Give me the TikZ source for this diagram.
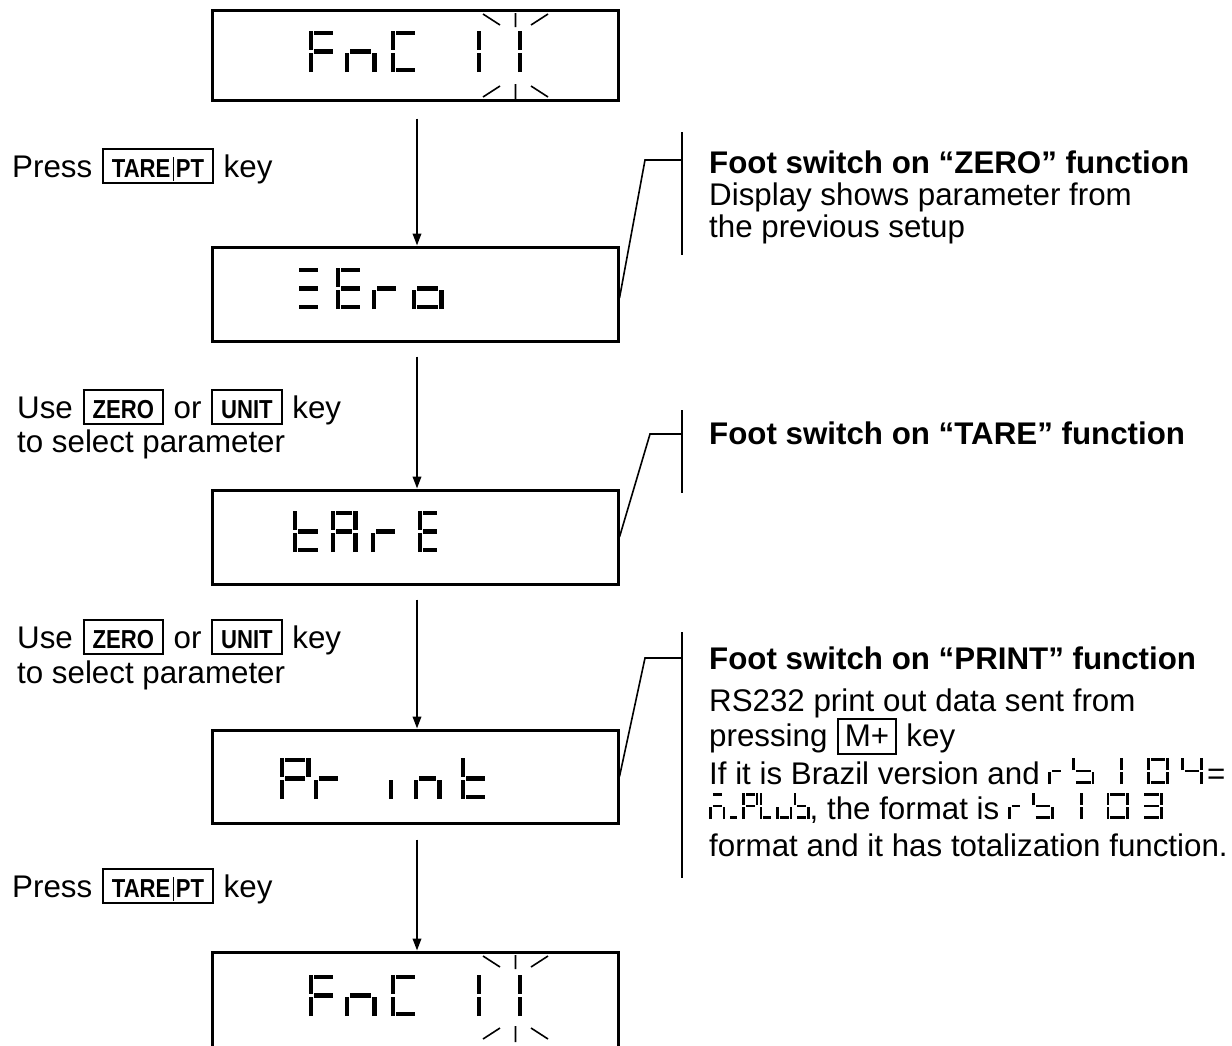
\documentclass[tikz,border=0pt]{standalone}
\usepackage{fontspec}
\usepackage{graphicx}
\setmainfont{Liberation Sans}
\usetikzlibrary{arrows.meta}
\newdimen\sgW \newdimen\sgH \newdimen\sgT \newdimen\sgG
\newcommand\sgr[4]{\rlap{\kern\dimexpr#1\relax\raise\dimexpr#2\relax\hbox{\vrule width\dimexpr#3\relax height\dimexpr#4\relax depth0pt}}}
\newcommand\sgSa{\sgr{\sgT+\sgG}{\sgH-\sgT}{\sgW-2\sgT-2\sgG}{\sgT}}
\newcommand\sgSg{\sgr{\sgT+\sgG}{(\sgH-\sgT)/2}{\sgW-2\sgT-2\sgG}{\sgT}}
\newcommand\sgSd{\sgr{\sgT+\sgG}{0pt}{\sgW-2\sgT-2\sgG}{\sgT}}
\newcommand\sgSf{\sgr{0pt}{\sgH/2+\sgG}{\sgT}{\sgH/2-\sgG}}
\newcommand\sgSe{\sgr{0pt}{0pt}{\sgT}{\sgH/2-\sgG}}
\newcommand\sgSb{\sgr{\sgW-\sgT}{\sgH/2+\sgG}{\sgT}{\sgH/2-\sgG}}
\newcommand\sgSc{\sgr{\sgW-\sgT}{0pt}{\sgT}{\sgH/2-\sgG}}
\def\sgparse#1{\ifx#1\relax\else\csname sgS#1\endcsname\expandafter\sgparse\fi}
\newcommand\sgc[2]{\begingroup\sgW=#1\relax\hbox to\sgW{\sgparse#2\relax\hfil}\endgroup}
\newcommand\sgput[2]{\rlap{\kern#1\relax#2}}
\newcommand\dispdims{\sgH=41pt\sgT=4.2pt\sgG=1.6pt}
\newcommand\inldims{\sgH=26pt\sgT=2.7pt\sgG=1pt}
\newcommand\inl[1]{{\inldims#1}}
\newcommand\rbhead{\sgc{16pt}{ge}\kern8pt\sgc{22pt}{fgcd}\kern26pt\sgc{2.7pt}{ef}\kern24pt\sgc{22pt}{abcdef}\kern12pt\relax}
\newcommand\rbA{\inl{\rbhead\sgc{22pt}{fgbc}}\kern4pt\relax}
\newcommand\rbB{\inl{\rbhead\sgc{22pt}{abgcd}}}
\newcommand\nPLub{\inl{\sgc{16pt}{agec}\kern1.5pt\sgc{14pt}{d}\kern1.5pt\sgc{16pt}{abfge}\kern1.5pt\sgc{15pt}{fed}\kern1.5pt\sgc{16pt}{edc}\kern1.5pt\sgc{16pt}{fgcd}}}
\newcommand\kbox[1]{\kern1pt{\fboxsep=0pt\fboxrule=2pt\fbox{\vrule height27pt depth5pt width0pt\kern8pt\scalebox{0.85}[1]{\fontsize{26}{26}\selectfont\bfseries #1}\kern8pt\relax}}\kern1pt\relax}
\newcommand\tpbar{\kern2.5pt\vrule width1.3pt height20pt depth4pt\kern2.5pt\relax}
\newcommand\mkey[1]{\kern1pt{\fboxsep=0pt\fboxrule=1.6pt\fbox{\vrule height26pt depth7pt width0pt\kern6pt #1\kern6pt\relax}}\kern1pt\relax}
\begin{document}
\begin{tikzpicture}[x=1pt,y=-1pt,
  txt/.style={anchor=base west, inner sep=0pt, font=\fontsize{31.3}{36}\selectfont},
  ttl/.style={anchor=base west, inner sep=0pt, font=\fontsize{31.3}{36}\selectfont\bfseries},
  disp/.style={draw, line width=3pt, minimum width=406pt, inner sep=0pt},
  segs/.style={anchor=base west, inner sep=0pt},
  arr/.style={line width=2pt, -{Triangle[length=12pt,width=8.5pt]}},
  call/.style={line width=1.6pt},
  ray/.style={line width=1.6pt}]
\useasboundingbox (0,0) rectangle (1232,1045);
\clip (0,0) rectangle (1232,1045);
% display boxes
\node[disp, minimum height=90pt] (d1) at (415,55) {};
\node[disp, minimum height=94pt] (d2) at (415,294) {};
\node[disp, minimum height=94pt] (d3) at (415,537) {};
\node[disp, minimum height=93pt] (d4) at (415,776.5) {};
\node[disp, minimum height=100pt] (d5) at (415,1002) {};
% display contents
\node[segs] (s1) at (0,72) {\dispdims\sgput{308pt}{\sgc{30pt}{afeg}}\sgput{344pt}{\sgc{32pt}{gec}}\sgput{390pt}{\sgc{30pt}{afed}}\sgput{476pt}{\sgc{4.2pt}{fe}}\sgput{517pt}{\sgc{4.2pt}{fe}}};
\node[segs] (s2) at (0,309) {\dispdims\sgput{293pt}{\sgc{30pt}{agd}}\sgput{335pt}{\sgc{30pt}{afged}}\sgput{371pt}{\sgc{30pt}{ge}}\sgput{411pt}{\sgc{32pt}{gecd}}};
\node[segs] (s3) at (0,552) {\dispdims\sgput{292pt}{\sgc{31pt}{fegd}}\sgput{330pt}{\sgc{27pt}{abcefg}}\sgput{370pt}{\sgc{30pt}{ge}}\sgput{417pt}{\sgc{25pt}{afged}}};
\node[segs] (s4) at (0,799) {\dispdims\sgput{279pt}{\sgc{31pt}{abfge}}\sgput{313pt}{\sgc{30pt}{ge}}\sgput{388pt}{\sgc{4.2pt}{e}}\sgput{413pt}{\sgc{28pt}{gec}}\sgput{460pt}{\sgc{30pt}{fegd}}};
\node[segs] (s5) at (0,1016) {\dispdims\sgput{308pt}{\sgc{30pt}{afeg}}\sgput{344pt}{\sgc{32pt}{gec}}\sgput{390pt}{\sgc{30pt}{afed}}\sgput{476pt}{\sgc{4.2pt}{fe}}\sgput{517pt}{\sgc{4.2pt}{fe}}};
% blinking rays
\draw[ray] (515.5,13) -- (515.5,27) (483,14) -- (500,25) (531,25) -- (548,14);
\draw[ray] (515.5,84) -- (515.5,100) (483,97) -- (500,86) (531,86) -- (548,97);
\draw[ray] (515.5,955) -- (515.5,969) (483,956) -- (500,967) (531,967) -- (548,956);
\draw[ray] (515.5,1026) -- (515.5,1042) (483,1039) -- (500,1028) (531,1028) -- (548,1039);
% arrows
\draw[arr] ([xshift=2pt,yshift=-17pt]d1.south) -- ([xshift=2pt]d2.north);
\draw[arr] ([xshift=2pt,yshift=-14pt]d2.south) -- ([xshift=2pt]d3.north);
\draw[arr] ([xshift=2pt,yshift=-14pt]d3.south) -- ([xshift=2pt]d4.north);
\draw[arr] ([xshift=2pt,yshift=-15pt]d4.south) -- ([xshift=2pt]d5.north);
% left labels
\node[txt] (l1) at (12,177) {Press \kbox{TARE\tpbar PT} key};
\node[txt] (l2) at (17,418) {Use \kbox{ZERO} or \kbox{UNIT} key};
\node[txt] (l3) at (17,452) {to select parameter};
\node[txt] (l4) at (17,648) {Use \kbox{ZERO} or \kbox{UNIT} key};
\node[txt] (l5) at (17,683) {to select parameter};
\node[txt] (l6) at (12,897) {Press \kbox{TARE\tpbar PT} key};
% callouts
\coordinate (k1) at (645,160); \coordinate (b1t) at (682,132); \coordinate (b1b) at (682,255);
\draw[call] ([yshift=-4pt]d2.east) -- (k1) -- (k1 -| b1t);
\draw[call] (b1t) -- (b1b);
\coordinate (k2) at (650,434); \coordinate (b2t) at (682,410); \coordinate (b2b) at (682,493);
\draw[call] (d3.east) -- (k2) -- (k2 -| b2t);
\draw[call] (b2t) -- (b2b);
\coordinate (k3) at (645,658); \coordinate (b3t) at (682,632); \coordinate (b3b) at (682,878);
\draw[call] (d4.east) -- (k3) -- (k3 -| b3t);
\draw[call] (b3t) -- (b3b);
% right texts
\node[ttl] (r1) at (709,173) {Foot switch on “ZERO” function};
\node[txt] (r2) at (709,205) {Display shows parameter from};
\node[txt] (r3) at (709,237) {the previous setup};
\node[ttl] (r4) at (709,444) {Foot switch on “TARE” function};
\node[ttl] (r5) at (709,669) {Foot switch on “PRINT” function};
\node[txt] (r6) at (709,711) {RS232 print out data sent from};
\node[txt] (r7) at (709,746) {pressing \mkey{M+} key};
\node[txt] (r8) at (709,784) {If it is Brazil version and \rbA=};
\node[txt] (r9) at (709,819) {\nPLub, the format is \rbB};
\node[txt] (r10) at (709,856) {format and it has totalization function.};
\end{tikzpicture}
\end{document}
